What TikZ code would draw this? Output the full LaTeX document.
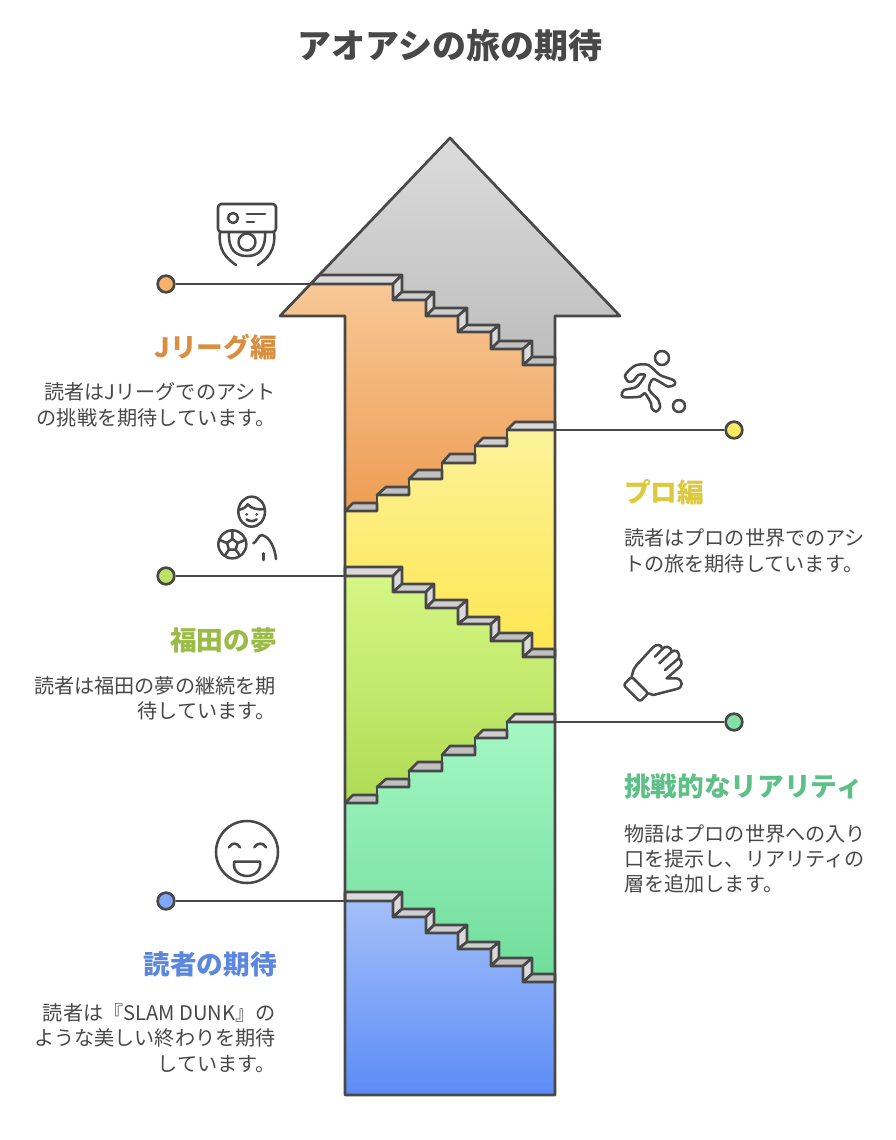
\documentclass[tikz,border=0pt]{standalone}
\usepackage{fontspec}
\setmainfont{Noto Sans CJK JP}
\definecolor{ink}{HTML}{484848}
\definecolor{dotA}{HTML}{F5B06A}
\definecolor{dotB}{HTML}{FDE95F}
\definecolor{dotC}{HTML}{BDE265}
\definecolor{dotD}{HTML}{80E0A5}
\definecolor{dotE}{HTML}{82A7F8}
\newcommand\DescF[1]{(393,284+#1) -- (393,300+#1) -- (426,300+#1) -- (426,316+#1) -- (458,316+#1) -- (458,332+#1) -- (491,332+#1) -- (491,349+#1) -- (523,349+#1) -- (523,365+#1) -- (555,365+#1)}
\newcommand\AscF[1]{(345,511+#1) -- (377,511+#1) -- (377,495+#1) -- (409,495+#1) -- (409,479+#1) -- (442,479+#1) -- (442,463+#1) -- (475,463+#1) -- (475,446+#1) -- (507,446+#1) -- (507,430+#1) -- (555,430+#1)}
\newcommand\AscB[1]{(555,430+#1) -- (507,430+#1) -- (507,446+#1) -- (475,446+#1) -- (475,463+#1) -- (442,463+#1) -- (442,479+#1) -- (409,479+#1) -- (409,495+#1) -- (377,495+#1) -- (377,511+#1) -- (345,511+#1)}
\newcommand\DescB[1]{(555,365+#1) -- (523,365+#1) -- (523,349+#1) -- (491,349+#1) -- (491,332+#1) -- (458,332+#1) -- (458,316+#1) -- (426,316+#1) -- (426,300+#1) -- (393,300+#1) -- (393,284+#1)}
\newcommand\DescFaces[3]{% offset, first-left front x, first-left back x
  \filldraw[face,fill=faceA] (#2,284+#1) -- (#3,275+#1) -- (402,275+#1) -- (393,284+#1) -- cycle;
  \filldraw[face,fill=faceA] (393,284+#1) -- (402,275+#1) -- (402,292+#1) -- (393,300+#1) -- cycle;
  \filldraw[face,fill=faceB] (393,300+#1) -- (402,292+#1) -- (434,292+#1) -- (426,300+#1) -- cycle;
  \filldraw[face,fill=faceA] (426,300+#1) -- (434,292+#1) -- (434,308+#1) -- (426,316+#1) -- cycle;
  \filldraw[face,fill=faceB] (426,316+#1) -- (434,308+#1) -- (467,308+#1) -- (458,316+#1) -- cycle;
  \filldraw[face,fill=faceA] (458,316+#1) -- (467,308+#1) -- (467,325+#1) -- (458,332+#1) -- cycle;
  \filldraw[face,fill=faceB] (458,332+#1) -- (467,325+#1) -- (499,325+#1) -- (491,332+#1) -- cycle;
  \filldraw[face,fill=faceA] (491,332+#1) -- (499,325+#1) -- (499,341+#1) -- (491,349+#1) -- cycle;
  \filldraw[face,fill=faceC] (491,349+#1) -- (499,341+#1) -- (532,341+#1) -- (523,349+#1) -- cycle;
  \filldraw[face,fill=faceA] (523,349+#1) -- (532,341+#1) -- (532,357+#1) -- (523,365+#1) -- cycle;
  \filldraw[face,fill=faceC] (523,365+#1) -- (532,357+#1) -- (555,357+#1) -- (555,365+#1) -- cycle;
}
\newcommand\AscFaces[1]{%
  \filldraw[face,fill=faceC] (345,511+#1) -- (353,503+#1) -- (377,503+#1) -- (377,511+#1) -- cycle;
  \filldraw[face,fill=faceC] (377,495+#1) -- (386,487+#1) -- (409,487+#1) -- (409,495+#1) -- cycle;
  \filldraw[face,fill=faceC] (409,479+#1) -- (418,470+#1) -- (442,470+#1) -- (442,479+#1) -- cycle;
  \filldraw[face,fill=faceC] (442,463+#1) -- (450,454+#1) -- (475,454+#1) -- (475,463+#1) -- cycle;
  \filldraw[face,fill=faceB] (475,446+#1) -- (483,438+#1) -- (507,438+#1) -- (507,446+#1) -- cycle;
  \filldraw[face,fill=faceA] (507,430+#1) -- (515,422+#1) -- (555,422+#1) -- (555,430+#1) -- cycle;
  \draw[edge] \AscF{#1};
}
\definecolor{faceA}{HTML}{DADADA}
\definecolor{faceB}{HTML}{CFCFCF}
\definecolor{faceC}{HTML}{C0C0C0}
\tikzset{
  face/.style={draw=ink,line width=2pt,line join=round},
  edge/.style={draw=ink,line width=2pt,line join=round},
  conn/.style={draw=ink,line width=1.9pt},
  dot/.style={circle,draw=ink,line width=2pt,minimum size=12.5pt,inner sep=0pt},
  icon/.style={draw=ink,line width=1.9pt,line cap=round,line join=round},
  heading/.style={inner sep=0pt,font=\fontsize{20}{24}\selectfont\bfseries},
  body/.style={inner sep=0pt,text=ink,font=\fontsize{15.1}{19}\selectfont},
}
\begin{document}
\begin{tikzpicture}[x=0.75pt,y=-0.75pt]
\useasboundingbox[fill=white] (0,0) rectangle (896,1140);
% title
\node[text=ink,font=\fontsize{25.5}{30}\selectfont\bfseries] (title) at (450,46) {アオアシの旅の期待};
% connectors under the arrow
\node[dot,fill=dotA] (d1) at (166,284) {};
\node[dot,fill=dotB] (d2) at (734,430) {};
\node[dot,fill=dotC] (d3) at (166,576) {};
\node[dot,fill=dotD] (d4) at (734,722) {};
\node[dot,fill=dotE] (d5) at (166,901) {};
\coordinate (c1) at (330,284);
\coordinate (c2) at (540,430);
\coordinate (c3) at (360,576);
\coordinate (c4) at (540,722);
\coordinate (c5) at (360,901);
\draw[conn] (d1) -- (c1);
\draw[conn] (d2) -- (c2);
\draw[conn] (d3) -- (c3);
\draw[conn] (d4) -- (c4);
\draw[conn] (d5) -- (c5);
% bands
\shade[top color=black!14,bottom color=black!26] (450,138) -- (620,316) -- (555,316) -- (555,365) -- (523,365) -- (523,349) -- (491,349) -- (491,332) -- (458,332) -- (458,316) -- (426,316) -- (426,300) -- (393,300) -- (393,284) -- (310.6,284) -- cycle;
\shade[top color={rgb,255:red,247;green,200;blue,150},bottom color={rgb,255:red,238;green,157;blue,83}] (310.6,284) -- (280,316) -- (345,316) -- \AscF{0} -- \DescB{0} -- cycle;
\shade[top color={rgb,255:red,253;green,242;blue,154},bottom color={rgb,255:red,253;green,230;blue,79}] \AscF{0} -- \DescB{292} -- (345,576) -- cycle;
\shade[top color={rgb,255:red,214;green,246;blue,132},bottom color={rgb,255:red,174;green,219;blue,84}] (345,576) -- \DescF{292} -- \AscB{292} -- cycle;
\shade[top color={rgb,255:red,164;green,247;blue,196},bottom color={rgb,255:red,111;green,220;blue,154}] \AscF{292} -- \DescB{617} -- (345,901) -- cycle;
\shade[top color={rgb,255:red,163;green,191;blue,249},bottom color={rgb,255:red,91;green,140;blue,246}] (345,901) -- \DescF{617} -- (555,1095) -- (345,1095) -- cycle;
% stairs
\DescFaces{0}{310.6}{319.2}
\AscFaces{0}
\DescFaces{292}{345}{345}
\AscFaces{292}
\DescFaces{617}{345}{345}
% outline
\draw[edge] (345,1095) -- (555,1095) -- (555,316) -- (620,316) -- (450,138) -- (280,316) -- (345,316) -- cycle;
% texts
\node[heading,anchor=east,text={rgb,255:red,217;green,143;blue,66}] (h1) at (277,347) {Jリーグ編};
\node[body,anchor=east,align=right] (t1) at (276,405) {読者はJリーグでのアシト\\の挑戦を期待しています。};
\node[heading,anchor=west,text={rgb,255:red,220;green,201;blue,62}] (h2) at (624,492) {プロ編};
\node[body,anchor=west,align=left] (t2) at (624,551) {読者はプロの世界でのアシ\\トの旅を期待しています。};
\node[heading,anchor=east,text={rgb,255:red,154;green,187;blue,69}] (h3) at (277,640) {福田の夢};
\node[body,anchor=east,align=right] (t3) at (276,698) {読者は福田の夢の継続を期\\待しています。};
\node[heading,anchor=west,text={rgb,255:red,92;green,192;blue,135}] (h4) at (624,786) {挑戦的なリアリティ};
\node[body,anchor=west,align=left] (t4) at (624,859) {物語はプロの世界への入り\\口を提示し、リアリティの\\層を追加します。};
\node[heading,anchor=east,text={rgb,255:red,91;green,135;blue,224}] (h5) at (277,964) {読者の期待};
\node[body,anchor=east,align=right] (t5) at (276,1038) {読者は『SLAM DUNK』の\\ような美しい終わりを期待\\しています。};
% icon 1
\draw[icon,rounded corners=2.5pt] (218,204) rectangle (276,232);
\draw[icon] (233,218) circle[radius=5];
\draw[icon] (247,214) -- (265,214) (247,222) -- (254,222);
\draw[icon] (247,242) circle[radius=8.5];
\draw[icon] (229,232) .. controls (228,250) and (236,256) .. (247,256) .. controls (258,256) and (266,250) .. (265,232);
\draw[icon] (220,232) .. controls (218,250) and (226,258) .. (236,265);
\draw[icon] (274,232) .. controls (276,250) and (268,258) .. (258,265);
% icon 2 runner
\draw[icon] (662,358) circle[radius=7];
\draw[icon] (679,406) circle[radius=6];
\begin{scope}[shift={(610,340)},x=0.25pt,y=-0.25pt]
\draw[icon] plot[smooth cycle,tension=0.45] coordinates {(115,75) (80,75) (58,90) (45,108) (55,125) (70,123) (85,105) (105,105) (90,130) (75,143) (42,150) (35,165) (45,172) (90,170) (105,160) (123,190) (125,205) (138,215) (150,203) (145,180) (117,148) (130,117) (175,140) (195,132) (190,120) (150,105)};
\end{scope}
% icon 3 boy and ball
\begin{scope}[shift={(205,485)},x=0.25pt,y=-0.25pt]
\draw[icon] (140,80) ellipse[x radius=40,y radius=45];
\draw[icon] (100,75) .. controls (115,72) and (125,65) .. (128,58) .. controls (140,72) and (160,75) .. (180,72);
\fill[ink] (125,88) circle[radius=4.5] (155,88) circle[radius=4.5];
\draw[icon] (125,103) .. controls (133,110) and (147,110) .. (155,103);
\draw[icon] (82,178) circle[radius=42];
\draw[icon] (82,162) -- (98,174) -- (92,194) -- (72,194) -- (66,174) -- cycle;
\draw[icon] (82,162) -- (82,138) (98,174) -- (120,165) (92,194) -- (105,212) (72,194) -- (59,212) (66,174) -- (44,165);
\draw[icon] (145,175) .. controls (155,172) and (160,150) .. (170,150) .. controls (195,155) and (210,190) .. (213,222);
\draw[icon] (175,205) -- (175,225);
\end{scope}
% icon 4 glove
\begin{scope}[shift={(610,635)},x=0.25pt,y=-0.25pt]
\draw[icon,rounded corners=2pt] (65,125) -- (115,175) -- (90,200) -- (40,150) -- cycle;
\draw[icon] (65,125) .. controls (70,105) and (72,98) .. (80,90) -- (128,38) .. controls (140,25) and (155,28) .. (157,42) .. controls (165,30) and (185,35) .. (185,50) .. controls (195,42) and (212,50) .. (206,70) .. controls (215,78) and (218,85) .. (210,95) -- (170,130) -- (200,130) .. controls (220,135) and (220,158) .. (200,162) -- (130,180) -- (115,175);
\draw[icon] (135,65) -- (157,42) (148,85) -- (185,50) (165,105) -- (206,70);
\end{scope}
% icon 5 smile
\draw[icon] (247,852) circle[radius=31];
\begin{scope}[shift={(205,810)},x=0.25pt,y=-0.25pt]
\draw[icon] (72,112) .. controls (80,97) and (97,97) .. (105,112);
\draw[icon] (148,112) .. controls (156,97) and (175,97) .. (183,112);
\draw[icon] (88,155) -- (165,155) .. controls (170,180) and (150,198) .. (126,198) .. controls (102,198) and (82,180) .. (88,155) -- cycle;
\end{scope}
\end{tikzpicture}
\end{document}
